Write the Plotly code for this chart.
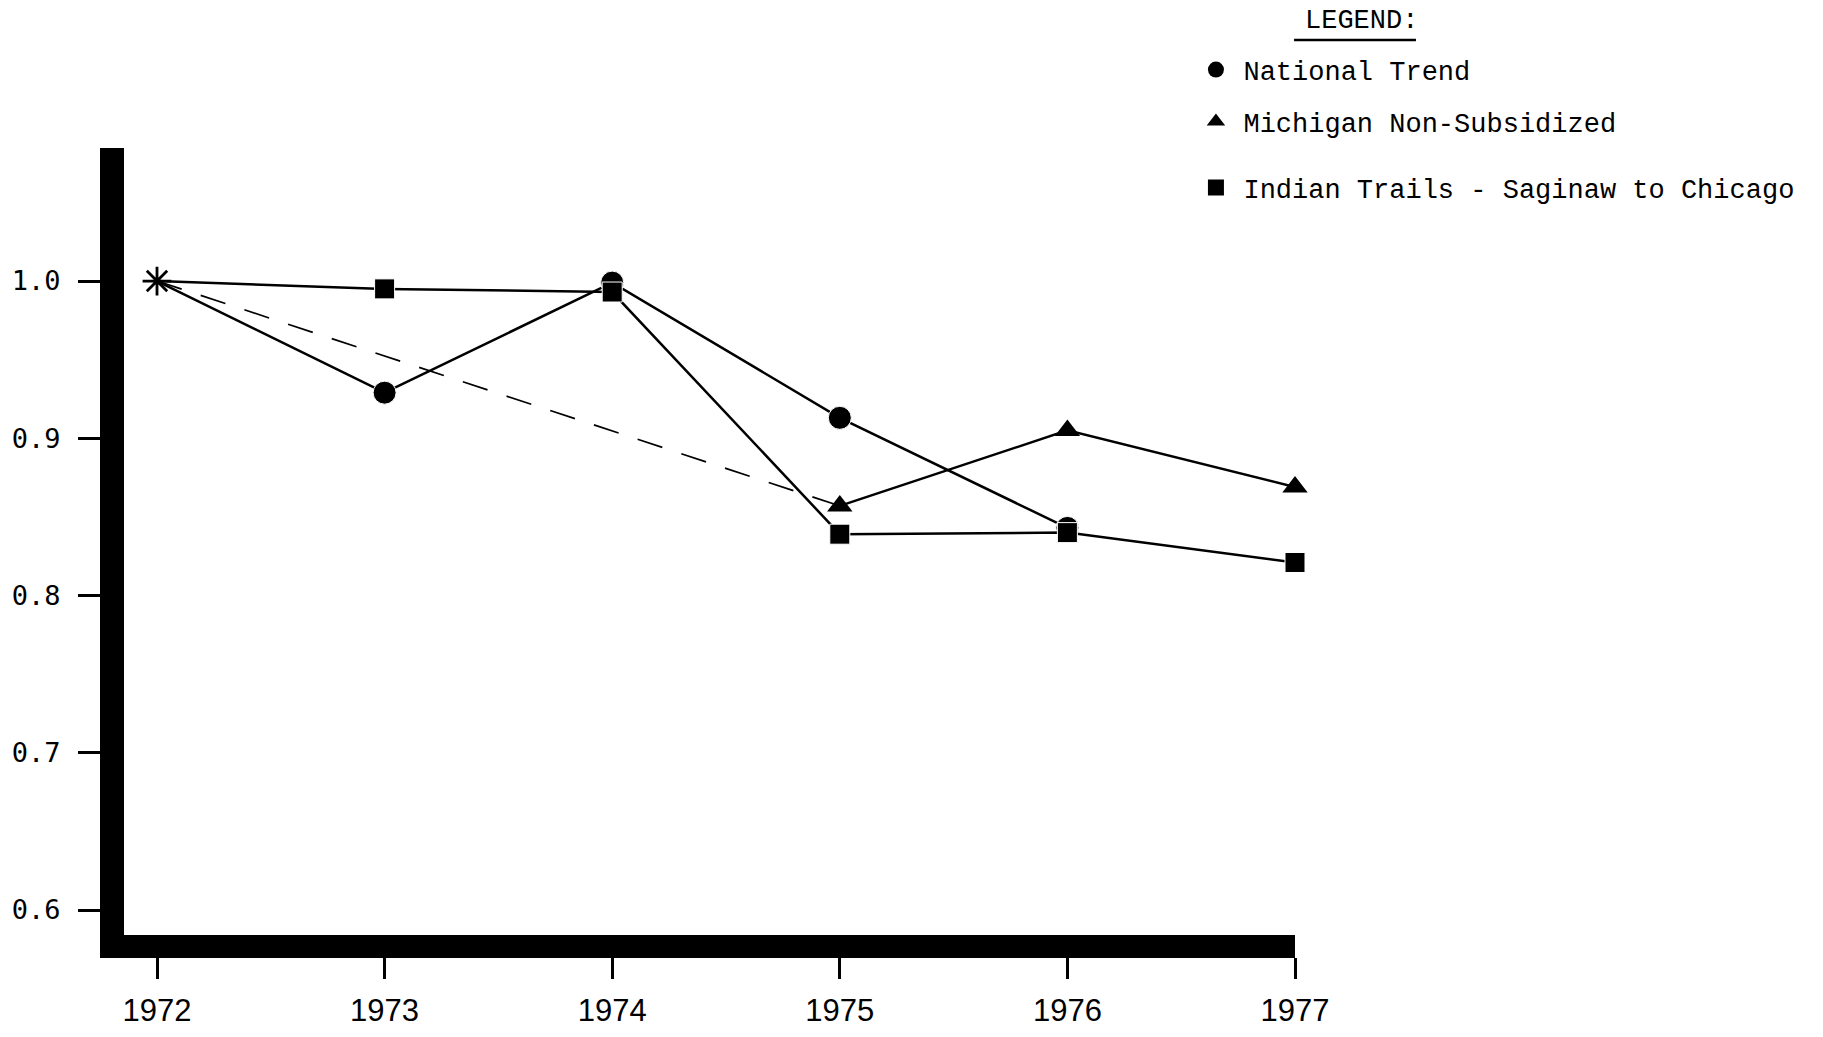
import plotly.graph_objects as go

years = [1972, 1973, 1974, 1975, 1976, 1977]
national = [1.0, 0.929, 0.999, 0.913, 0.843, None]
michigan = [1.0, None, None, 0.857, 0.905, 0.869]
indian = [1.0, 0.995, 0.993, 0.839, 0.840, 0.821]

y_ticks = [0.6, 0.7, 0.8, 0.9, 1.0]
y_tick_labels = ["0.6", "0.7", "0.8", "0.9", "1.0"]
x_tick_labels = ["1972", "1973", "1974", "1975", "1976", "1977"]

names = ["National Trend", "Michigan Non-Subsidized", "Indian Trails - Saginaw to Chicago"]
legend_title = "LEGEND:"

BLACK = "#000000"
LW = 2.5
fig = go.Figure()

# National Trend (first point is the shared asterisk)
fig.add_trace(go.Scatter(
    x=years[:5], y=national[:5], mode="lines+markers",
    line=dict(color=BLACK, width=LW),
    marker=dict(symbol="circle", size=[0, 23, 23, 23, 23], color=BLACK, opacity=1),
    showlegend=False, cliponaxis=False))

# Michigan: dashed from 1972 to 1975, solid afterwards
fig.add_trace(go.Scatter(
    x=years[:4], y=michigan[:4], mode="lines", connectgaps=True,
    line=dict(color=BLACK, width=1.7, dash="26px,20px"),
    showlegend=False, cliponaxis=False))
fig.add_trace(go.Scatter(
    x=years[3:], y=michigan[3:], mode="lines+markers",
    line=dict(color=BLACK, width=LW),
    marker=dict(symbol="triangle-up", size=22, color=BLACK, opacity=1),
    showlegend=False, cliponaxis=False))

# Indian Trails
fig.add_trace(go.Scatter(
    x=years, y=indian, mode="lines+markers",
    line=dict(color=BLACK, width=LW),
    marker=dict(symbol="square", size=[0, 20, 20, 20, 20, 20], color=BLACK, opacity=1),
    showlegend=False, cliponaxis=False))

# Common starting point
fig.add_trace(go.Scatter(
    x=[years[0]], y=[national[0]], mode="markers",
    marker=dict(symbol="asterisk-open", size=24, color=BLACK,
                line=dict(color=BLACK, width=2.8)),
    showlegend=False, cliponaxis=False))

# Legend entries (marker only)
symbols = ["circle", "triangle-up", "square"]
legend_ids = ["legend", "legend2", "legend3"]
for nm, sym, lg in zip(names, symbols, legend_ids):
    fig.add_trace(go.Scatter(
        x=[None], y=[None], mode="markers", name=nm, legend=lg,
        marker=dict(symbol=sym, size=16, color=BLACK)))

LEG_FONT = dict(family="Liberation Mono, DejaVu Sans Mono, monospace", size=27, color=BLACK)
leg_common = dict(xanchor="left", yanchor="middle", bgcolor="rgba(0,0,0,0)",
                  borderwidth=0, font=LEG_FONT, itemsizing="trace", itemwidth=45)

fig.update_layout(
    width=1823, height=1037,
    margin=dict(l=124, r=528, t=148, b=102),
    paper_bgcolor="white", plot_bgcolor="white",
    showlegend=True,
    legend=dict(x=0.909, y=1.0991, **leg_common),
    legend2=dict(x=0.909, y=1.0330, **leg_common),
    legend3=dict(x=0.909, y=0.9492, **leg_common),
    xaxis=dict(
        range=[1971.855, 1977.0], showgrid=False, zeroline=False, automargin=False,
        showline=True, linecolor=BLACK, linewidth=23,
        tickmode="array", tickvals=years, ticktext=x_tick_labels,
        ticks="outside", ticklen=21, tickwidth=3, tickcolor=BLACK,
        ticklabelstandoff=5,
        tickfont=dict(family="Liberation Sans Narrow, Liberation Sans, Arial", size=31, color=BLACK),
        fixedrange=True),
    yaxis=dict(
        range=[0.5841, 1.0846], showgrid=False, zeroline=False, automargin=False,
        showline=True, linecolor=BLACK, linewidth=24,
        tickmode="array", tickvals=y_ticks, ticktext=y_tick_labels,
        ticks="outside", ticklen=22, tickwidth=3, tickcolor=BLACK,
        ticklabelstandoff=12,
        tickfont=dict(family="DejaVu Sans Mono, monospace", size=27, color=BLACK),
        fixedrange=True),
    annotations=[dict(
        text=legend_title, xref="paper", yref="paper", x=1.0572, y=1.1614,
        xanchor="center", yanchor="middle", showarrow=False,
        font=LEG_FONT)],
    shapes=[dict(type="line", xref="paper", yref="paper",
                 x0=0.9992, x1=1.1033, y0=1.1372, y1=1.1372,
                 line=dict(color=BLACK, width=2.5))],
)

fig.write_html("out.html", config={"displayModeBar": False},
               post_script="document.body.style.margin='0px';")
